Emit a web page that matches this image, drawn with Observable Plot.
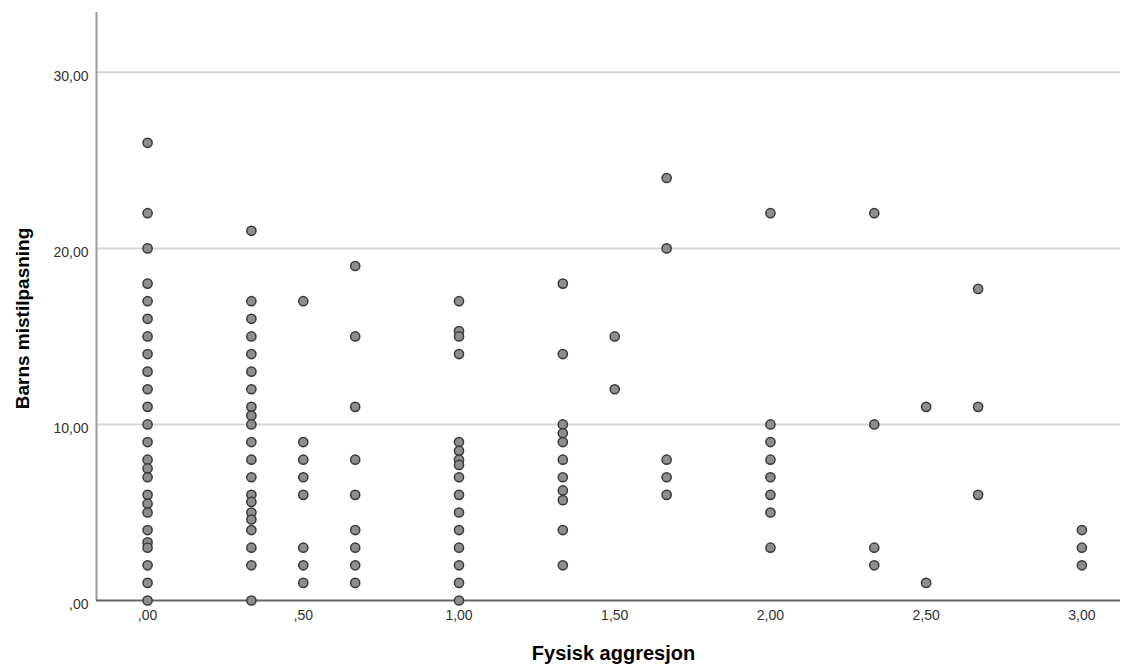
<!DOCTYPE html>
<html>
<head>
<meta charset="utf-8">
<script src="https://cdn.jsdelivr.net/npm/d3@7"></script>
<script src="https://cdn.jsdelivr.net/npm/@observablehq/plot@0.6"></script>
<style>
  html, body { margin: 0; padding: 0; background: #fff; }
  #chart svg { display: block; }
</style>
</head>
<body>
<div id="chart"></div>
<script>
// x levels of "Fysisk aggresjon"
const xLevels = [0, 1/3, 0.5, 2/3, 1, 4/3, 1.5, 5/3, 2, 7/3, 2.5, 8/3, 3];
// "Barns mistilpasning" values for each x level
const y000 = [26, 22, 20, 18, 17, 16, 15, 14, 13, 12, 11, 10, 9, 8, 7.5, 7, 6, 5.5, 5, 4, 3.3, 3, 2, 1, 0];
const y033 = [21, 17, 16, 15, 14, 13, 12, 11, 10.5, 10, 9, 8, 7, 6, 5.6, 5, 4.6, 4, 3, 2, 0];
const y050 = [17, 9, 8, 7, 6, 3, 2, 1];
const y067 = [19, 15, 11, 8, 6, 4, 3, 2, 1];
const y100 = [17, 15.3, 15, 14, 9, 8.5, 8, 7.7, 7, 6, 5, 4, 3, 2, 1, 0];
const y133 = [18, 14, 10, 9.5, 9, 8, 7, 6.25, 5.7, 4, 2];
const y150 = [15, 12];
const y167 = [24, 20, 8, 7, 6];
const y200 = [22, 10, 9, 8, 7, 6, 5, 3];
const y233 = [22, 10, 3, 2];
const y250 = [11, 1];
const y267 = [17.7, 11, 6];
const y300 = [4, 3, 2];
const yColumns = [y000, y033, y050, y067, y100, y133, y150, y167, y200, y233, y250, y267, y300];

const xTicks = [0, 0.5, 1, 1.5, 2, 2.5, 3];
const yTicks = [0, 10, 20, 30];
const xTitle = "Fysisk aggresjon";
const yTitle = "Barns mistilpasning";

const data = xLevels.flatMap((x, i) => yColumns[i].map(y => ({x, y})));

const fmt = v => d3.format(".2f")(v).replace(".", ",").replace(/^0,/, ",");

const xDomain = [-0.164, 3.124];
const yDomain = [0, 33.4];

const chart = Plot.plot({
  width: 1122,
  height: 669,
  marginLeft: 96,
  marginRight: 2,
  marginTop: 12,
  marginBottom: 69,
  style: { fontFamily: "'Liberation Sans', Arial, sans-serif", background: "#fff" },
  x: { domain: xDomain },
  y: { domain: yDomain },
  marks: [
    Plot.ruleY(yTicks.filter(d => d > 0), { stroke: "#d4d4d4", strokeWidth: 2 }),
    Plot.ruleX([xDomain[0]], { stroke: "#9a9a9a", strokeWidth: 2 }),
    Plot.ruleY([0], { stroke: "#666", strokeWidth: 2 }),
    Plot.axisX({ ticks: xTicks, tickFormat: fmt, tickSize: 0, tickPadding: 10, fontSize: 14, fill: "#333", label: null }),
    Plot.axisY({ ticks: yTicks, tickFormat: fmt, tickSize: 0, tickPadding: 8, fontSize: 14, fill: "#333", dy: 4, label: null }),
    Plot.dot(data, { x: "x", y: "y", r: 4.6, fill: "#8e8e8e", stroke: "#3a3a3a", strokeWidth: 1.5 }),
    Plot.text([xTitle], { frameAnchor: "bottom", dx: 5, dy: 59, fontSize: 20, fontWeight: "bold", fill: "#000" }),
    Plot.text([yTitle], { frameAnchor: "left", textAnchor: "middle", dx: -74, dy: 12, rotate: -90, fontSize: 19, fontWeight: "bold", fill: "#000" })
  ]
});
document.getElementById("chart").appendChild(chart);
</script>
</body>
</html>
